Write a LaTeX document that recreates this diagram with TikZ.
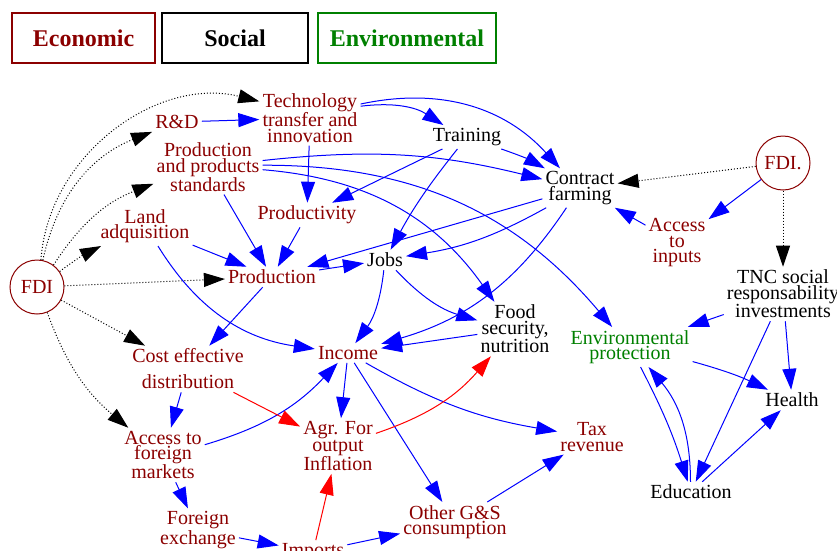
\documentclass[tikz,border=0pt]{standalone}
\usepackage{fontspec}
\setmainfont{Liberation Serif}
\usetikzlibrary{arrows.meta}
\definecolor{econ}{RGB}{139,0,0}
\definecolor{envi}{RGB}{0,128,0}
\begin{document}
\begin{tikzpicture}
  [x=1pt,y=-1pt,
   every node/.style={align=center,inner sep=3pt,font=\fontsize{20}{15.5}\selectfont},
   eco/.style={text=econ},
   env/.style={text=envi},
   legend/.style={draw,line width=1.2pt,minimum height=50pt,inner sep=0pt,font=\bfseries\fontsize{24}{24}\selectfont},
   fdinode/.style={circle,draw=econ,text=econ,line width=1pt,minimum size=54pt,inner sep=0pt},
   tip/.style={-{Triangle[length=21pt,width=14pt]}},
   dots/.style={tip,dotted,line width=1pt,black},
   link/.style={tip,line width=1pt,blue},
   hot/.style={tip,line width=1pt,red}]
  \useasboundingbox (0,0) rectangle (837,550);

  \node[legend,draw=econ,text=econ,minimum width=143pt] (leco) at (83.5,38) {Economic};
  \node[legend,minimum width=146pt] (lsoc) at (235,38) {Social};
  \node[legend,draw=envi,text=envi,minimum width=178pt] (lenv) at (407,38) {Environmental};

  \node[fdinode] (fdi) at (37,287) {FDI};
  \node[fdinode] (fdir) at (783,163) {FDI.};
  \node[eco] (tech) at (310,118) {Technology\\transfer and\\innovation};
  \node[eco] (rd) at (177,122) {R\&D};
  \node[eco] (pps) at (208,167) {Production\\and products\\standards};
  \node[eco] (land) at (145,226) {Land\\adquisition};
  \node[eco] (prodv) at (307,215) {Productivity};
  \node[eco] (prod) at (272,277) {Production};
  \node (train) at (467,137) {Training};
  \node (contract) at (580,188) {Contract\\farming};
  \node (jobs) at (385,260) {Jobs};
  \node[eco] (inputs) at (677,243) {Access\\to\\inputs};
  \node (tnc) at (783,294) {TNC social\\responsability\\investments};
  \node (food) at (515,329) {Food\\security,\\nutrition};
  \node[eco] (income) at (348,353) {Income};
  \node[eco] (cost) at (188,369) {Cost effective\\[10.5pt]distribution};
  \node[env] (envp) at (630,347) {Environmental\\protection};
  \node (health) at (792,400) {Health};
  \node[eco] (afm) at (163,455) {Access to\\foreign\\markets};
  \node[eco] (agr) at (338,446) {Agr. For\\output\\Inflation};
  \node[eco] (tax) at (592,437) {Tax\\revenue};
  \node (edu) at (691,492) {Education};
  \node[eco] (fx) at (198,530) {Foreign\\exchange};
  \node[eco] (imports) at (313,552) {Imports};
  \node[eco] (other) at (455,522) {Other G\&S\\consumption};

  \foreach \from/\to/\b in {fdi/tech/50,fdi/rd/28,fdi/pps/18,fdi/land/5,fdi/prod/0,
      fdi/cost/0,fdi/afm/-15,fdir/contract/0,fdir/tnc/0}
    \draw[dots] (\from) to[bend left=\b] (\to);

  \foreach \from/\to/\b in {rd/tech/0,tech/train/20,tech/contract/30,tech/prodv/0,
      pps/contract/10,pps/food/25,pps/envp/25,pps/prod/0,train/prodv/0,train/jobs/-5,
      train/contract/5,contract/prod/0,contract/jobs/10,contract/income/20,prodv/prod/0,
      land/prod/0,land/income/-25,prod/jobs/0,prod/cost/0,jobs/income/15,jobs/food/-15,
      food/income/0,income/agr/0,income/other/0,income/tax/-10,cost/afm/0,afm/income/-15,
      afm/fx/0,fx/imports/0,imports/other/0,other/tax/0,fdir/inputs/0,inputs/contract/0,
      tnc/envp/0,tnc/edu/0,tnc/health/0,envp/edu/5,edu/envp/-20,envp/health/5,edu/health/0}
    \draw[link] (\from) to[bend left=\b] (\to);

  \foreach \from/\to/\b in {cost/agr/0,imports/agr/0,agr/food/-15}
    \draw[hot] (\from) to[bend left=\b] (\to);
\end{tikzpicture}
\end{document}
